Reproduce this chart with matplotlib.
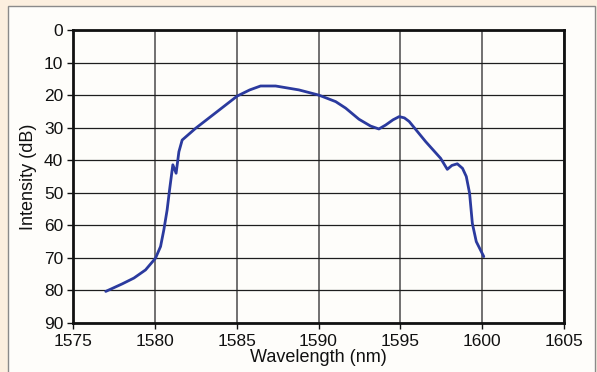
import matplotlib
matplotlib.use("Agg")
import matplotlib.pyplot as plt
from matplotlib.patches import Rectangle

wavelength = [1577.0, 1578.0, 1578.72, 1579.43, 1580.04, 1580.35, 1580.55, 1580.75, 1580.9,
              1581.1, 1581.3, 1581.47, 1581.67, 1582.49, 1583.8, 1585.03, 1585.8, 1586.46,
              1587.38, 1588.8, 1590.02, 1591.05, 1591.66, 1592.47, 1593.18, 1593.69,
              1594.1, 1594.55, 1594.93, 1595.25, 1595.54, 1596.55, 1597.46, 1597.87,
              1598.15, 1598.48, 1598.8, 1599.03, 1599.23, 1599.4, 1599.64, 1600.1]
intensity = [80.3, 78.0, 76.2, 73.7, 70.1, 66.5, 61.4, 55.3, 49.1,
             41.4, 44.0, 37.4, 33.8, 30.2, 25.1, 20.3, 18.4, 17.2,
             17.2, 18.4, 20.0, 22.0, 24.0, 27.4, 29.5, 30.4,
             29.2, 27.6, 26.6, 27.0, 28.1, 34.3, 39.4, 42.8,
             41.6, 41.1, 42.5, 45.0, 50.1, 59.4, 65.0, 69.6]

x_ticks = [1575, 1580, 1585, 1590, 1595, 1600, 1605]
y_ticks = [0, 10, 20, 30, 40, 50, 60, 70, 80, 90]

plt.rcParams['font.family'] = ['Liberation Sans', 'DejaVu Sans']

fig = plt.figure(figsize=(5.97, 3.72), dpi=100)
fig.patch.set_facecolor('#fcefdf')
fig.patches.append(Rectangle((8/597, -0.01), (595-8)/597, (372-6)/372 + 0.01,
                             transform=fig.transFigure, facecolor='#fefdfa',
                             edgecolor='#8a8a8a', linewidth=1.0, zorder=-10))

ax = fig.add_axes([73/597, (372-323)/372, (564-73)/597, (323-30)/372], zorder=5)
ax.set_facecolor('#fefdfa')
ax.plot(wavelength, intensity, color='#2b3a9e', linewidth=2.0, zorder=3,
        solid_joinstyle='round', solid_capstyle='round')

ax.set_xlim(1575, 1605)
ax.set_ylim(90, 0)
ax.set_xticks(x_ticks)
ax.set_yticks(y_ticks)
ax.xaxis.grid(True, color='#4a4a4a', linewidth=1.1)
ax.yaxis.grid(True, color='#1e1e1e', linewidth=0.9)
ax.set_axisbelow(True)
for s in ax.spines.values():
    s.set_linewidth(2.0)
    s.set_color('#111111')
ax.tick_params(direction='out', length=4, width=1.0, labelsize=12.5, colors='#111111')
ax.tick_params(axis='x', pad=4)
ax.tick_params(axis='y', pad=3)
ax.set_xlabel('Wavelength (nm)', fontsize=13, labelpad=0, color='#111111')
ax.set_ylabel('Intensity (dB)', fontsize=13, labelpad=5, color='#111111')

fig.savefig('out.png', dpi=100, facecolor=fig.get_facecolor())
